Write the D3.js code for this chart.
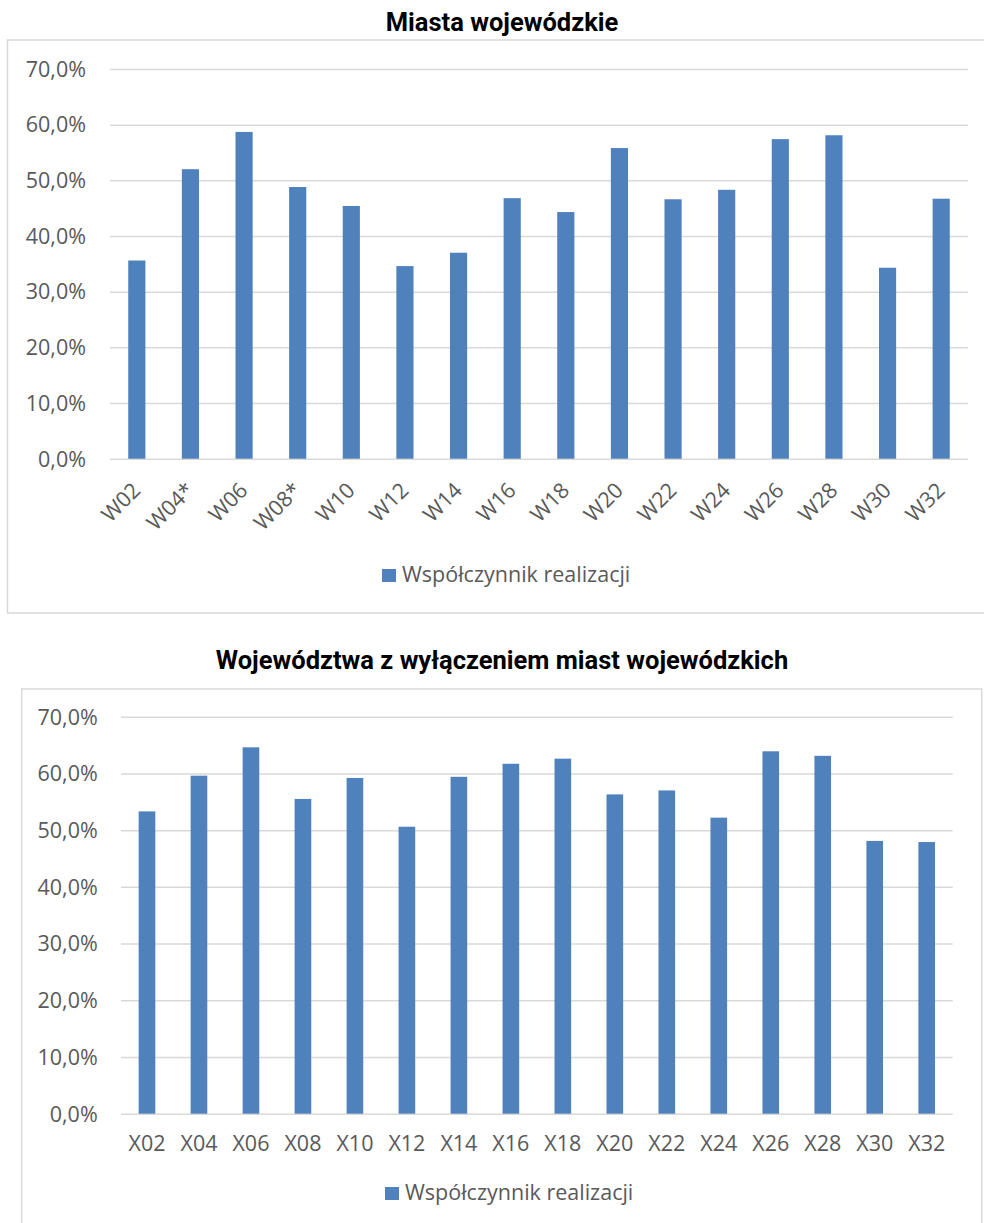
<!DOCTYPE html>
<html>
<head>
<meta charset="utf-8">
<script src="https://cdn.jsdelivr.net/npm/d3@7"></script>
<style>
  body { margin: 0; background: #fff; }
  svg { display: block; }
  .tick text { font-family: "Open Sans", sans-serif; fill: #595959; }
</style>
</head>
<body>
<div id="chart"></div>
<script>
// Miasta wojewódzkie
var cityCategories = ["W02", "W04*", "W06", "W08*", "W10", "W12", "W14", "W16",
                      "W18", "W20", "W22", "W24", "W26", "W28", "W30", "W32"];
var cityValues = [0.356, 0.520, 0.587, 0.488, 0.454, 0.346, 0.370, 0.468,
                  0.443, 0.558, 0.466, 0.483, 0.574, 0.581, 0.343, 0.467];

// Województwa z wyłączeniem miast wojewódzkich
var regionCategories = ["X02", "X04", "X06", "X08", "X10", "X12", "X14", "X16",
                        "X18", "X20", "X22", "X24", "X26", "X28", "X30", "X32"];
var regionValues = [0.533, 0.596, 0.646, 0.555, 0.592, 0.506, 0.594, 0.617,
                    0.626, 0.563, 0.570, 0.522, 0.639, 0.631, 0.481, 0.479];

var yTicks = [0, 0.1, 0.2, 0.3, 0.4, 0.5, 0.6, 0.7];
var seriesName = "Współczynnik realizacji";
var titles = ["Miasta wojewódzkie", "Województwa z wyłączeniem miast wojewódzkich"];

var BAR_COLOR = "#4f81bd";
var GRID_COLOR = "#d9d9d9";
var TEXT_COLOR = "#595959";
var LABEL_SIZE = "21.5px";

var pl = d3.formatLocale({decimal: ",", thousands: " ", grouping: [3], currency: ["", " zł"]});
var pct = pl.format(".1%");

var svg = d3.select("#chart").append("svg")
  .attr("width", 984)
  .attr("height", 1223);

function drawChart(cfg) {
  var g = svg.append("g");

  // outer frame of the chart area
  g.append("rect")
    .attr("x", cfg.frame[0]).attr("y", cfg.frame[1])
    .attr("width", cfg.frame[2]).attr("height", cfg.frame[3])
    .attr("fill", "none")
    .attr("stroke", GRID_COLOR)
    .attr("stroke-width", 1.5);

  g.append("text")
    .attr("x", 502).attr("y", cfg.titleY)
    .attr("text-anchor", "middle")
    .style("font-family", "Roboto, sans-serif")
    .style("font-weight", 700)
    .style("font-size", "25.5px")
    .attr("fill", "#000")
    .text(cfg.title);

  var x = d3.scaleBand()
    .domain(cfg.categories)
    .range([cfg.left, cfg.right])
    .paddingInner(0.68)
    .paddingOuter(0.34);

  var y = d3.scaleLinear()
    .domain([0, 0.7])
    .range([cfg.bottom, cfg.top]);

  // y axis + gridlines
  var yAxis = g.append("g")
    .attr("transform", "translate(" + cfg.left + ",0)")
    .call(d3.axisLeft(y)
      .tickValues(yTicks)
      .tickFormat(pct)
      .tickSize(-(cfg.right - cfg.left))
      .tickPadding(cfg.left - cfg.yLabelX));
  yAxis.select(".domain").remove();
  yAxis.selectAll(".tick line")
    .attr("stroke", GRID_COLOR)
    .attr("stroke-width", 1.5);
  yAxis.selectAll(".tick text")
    .style("font-size", LABEL_SIZE)
    .attr("dy", "0.34em");

  g.append("g").selectAll("rect")
    .data(cfg.values)
    .enter().append("rect")
      .attr("x", function(d, i) { return x(cfg.categories[i]); })
      .attr("y", function(d) { return y(d); })
      .attr("width", x.bandwidth())
      .attr("height", function(d) { return cfg.bottom - y(d); })
      .attr("fill", BAR_COLOR);

  // x axis labels
  var xAxis = g.append("g")
    .attr("transform", "translate(0," + cfg.bottom + ")")
    .call(d3.axisBottom(x).tickSize(0));
  xAxis.select(".domain").remove();
  var xt = xAxis.selectAll(".tick text").style("font-size", LABEL_SIZE);
  if (cfg.rotate) {
    xt.attr("x", 0).attr("y", 0).attr("dy", 0)
      .attr("text-anchor", "end")
      .attr("transform", "translate(5,33) rotate(-45)");
  } else {
    xt.attr("y", 37).attr("dy", 0);
  }

  // legend
  var lg = g.append("g").attr("transform", "translate(" + cfg.legend[0] + "," + cfg.legend[1] + ")");
  lg.append("rect")
    .attr("x", 0).attr("y", -13)
    .attr("width", 14).attr("height", 13)
    .attr("fill", BAR_COLOR);
  lg.append("text")
    .attr("x", 20).attr("y", 0)
    .style("font-family", "Open Sans, sans-serif")
    .style("font-size", LABEL_SIZE)
    .attr("fill", TEXT_COLOR)
    .text(seriesName);
}

drawChart({
  title: titles[0], titleY: 31,
  categories: cityCategories, values: cityValues,
  frame: [7.5, 40, 990, 573],
  left: 110, right: 968, top: 69, bottom: 458.7,
  yLabelX: 86, rotate: true,
  legend: [382, 582]
});

drawChart({
  title: titles[1], titleY: 669,
  categories: regionCategories, values: regionValues,
  frame: [21.7, 689, 960, 560],
  left: 121, right: 952.7, top: 716.7, bottom: 1113.7,
  yLabelX: 97.7, rotate: false,
  legend: [385, 1200]
});
</script>
</body>
</html>
